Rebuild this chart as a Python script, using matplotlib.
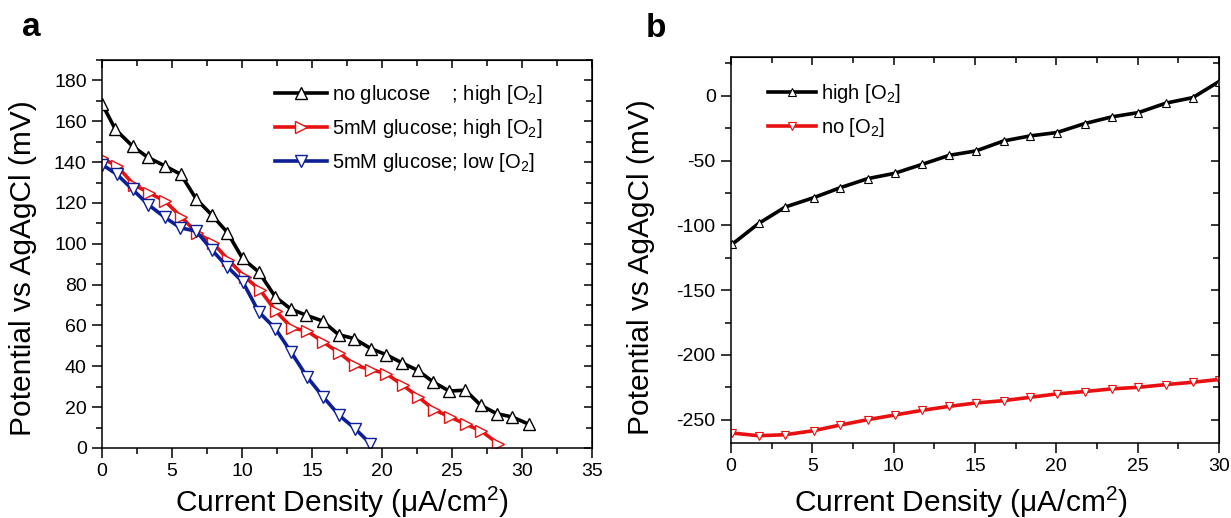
import numpy as np
import matplotlib
matplotlib.use('Agg')
import matplotlib.pyplot as plt
from matplotlib.ticker import MultipleLocator

plt.rcParams['font.family'] = ['Liberation Sans', 'DejaVu Sans']
plt.rcParams['mathtext.fontset'] = 'custom'
plt.rcParams['mathtext.rm'] = 'Liberation Sans'
plt.rcParams['mathtext.it'] = 'Liberation Sans:italic'
plt.rcParams['axes.unicode_minus'] = False

# panel a: no glucose, high O2
a_x_ng = [0.0, 0.96, 2.18, 3.28, 4.47, 5.63, 6.73, 7.86, 8.96, 10.04, 11.2, 12.38,
          13.5, 14.6, 15.75, 16.9, 18.0, 19.2, 20.3, 21.4, 22.56, 23.66, 24.8, 25.95,
          27.06, 28.2, 29.3, 30.5]
a_y_ng = [168.5, 156, 147.8, 142.3, 138.2, 134, 121.9, 114, 105.5, 92.8, 86.2, 74,
          68, 65, 62.2, 55.5, 53.6, 48.7, 45.7, 41.8, 38, 32.3, 27.9, 28.3,
          20.9, 16.8, 15.2, 11.6]
# panel a: 5mM glucose, high O2
a_x_gh = [0.0, 1.07, 2.26, 3.34, 4.5, 5.65, 6.76, 7.9, 9.0, 10.2, 11.3, 12.4,
          13.57, 14.67, 15.8, 16.94, 18.07, 19.2, 20.3, 21.5, 22.6, 23.7, 24.85,
          26.0, 27.1, 28.3]
a_y_gh = [141.8, 138.2, 129, 125, 120.9, 113.2, 105.5, 100.6, 92.3, 83.8, 77.3, 67.1,
          58.8, 57.2, 51.9, 46.6, 40.5, 38.4, 36.4, 30.7, 25, 18.8, 15.2,
          11.6, 8.3, 2.1]
# panel a: 5mM glucose, low O2
a_x_gl = [0.0, 1.05, 2.18, 3.3, 4.5, 5.6, 6.73, 7.86, 8.96, 10.06, 11.2, 12.38,
          13.5, 14.65, 15.8, 16.94, 18.07, 19.17]
a_y_gl = [138.8, 134.1, 126.6, 119.2, 112.9, 107.8, 106.2, 96.9, 88.7, 81.3, 66.6, 58.5,
          47, 34.8, 25, 16, 9.5, 2.1]

# panel b
b_x = [0.06, 1.70, 3.34, 5.08, 6.72, 8.4, 10.06, 11.74, 13.42, 15.06, 16.76, 18.4,
       20.04, 21.74, 23.42, 25.05, 26.74, 28.4, 29.97]
b_y_high = [-114.7, -98.5, -85.8, -78.6, -70.9, -63.9, -59.8, -52.9, -45.9, -42.5,
            -34.8, -30.9, -28.3, -21.4, -16.2, -12.9, -5.6, -1.3, 10.8]
b_y_no = [-260.3, -262.4, -261.6, -258.5, -254.1, -250, -246.4, -242.8, -239.7, -237.1,
          -235.3, -232.7, -230.1, -228.3, -226.2, -225, -222.9, -221.1, -219]

red = '#e81010'
blue = '#0c1f96'

W, H = 1231, 518
fig = plt.figure(figsize=(W / 100, H / 100), dpi=100)
ax1 = fig.add_axes([102 / W, 1 - 448 / H, 490 / W, 388 / H])
ax2 = fig.add_axes([731 / W, 1 - 443 / H, 488 / W, 386 / H])

ax1.plot(a_x_ng, a_y_ng, '-^', color='black', lw=2.6, ms=8.5, mfc='white', mec='black',
         mew=1.0, label='no glucose    ; high [O$_2$]')
ax1.plot(a_x_gh, a_y_gh, '->', color=red, lw=2.6, ms=8.5, mfc='white', mec=red,
         mew=1.0, label='5mM glucose; high [O$_2$]')
ax1.plot(a_x_gl, a_y_gl, '-v', color=blue, lw=2.6, ms=8.5, mfc='white', mec=blue,
         mew=1.0, label='5mM glucose; low [O$_2$]')

ax2.plot(b_x, b_y_high, '-^', color='black', lw=2.6, ms=6, mfc='white', mec='black',
         mew=0.8, label='high [O$_2$]')
ax2.plot(b_x, b_y_no, '-v', color=red, lw=2.6, ms=6, mfc='white', mec=red,
         mew=0.8, label='no [O$_2$]')

ax1.set_xlim(0, 35)
ax1.set_ylim(0, 190)
ax1.xaxis.set_major_locator(MultipleLocator(5))
ax1.xaxis.set_minor_locator(MultipleLocator(2.5))
ax1.set_yticks(np.arange(0, 181, 20))
ax1.yaxis.set_minor_locator(MultipleLocator(10))

ax2.set_xlim(0, 30)
ax2.set_ylim(-268, 30)
ax2.xaxis.set_major_locator(MultipleLocator(5))
ax2.xaxis.set_minor_locator(MultipleLocator(2.5))
ax2.set_yticks(np.arange(-250, 1, 50))
ax2.yaxis.set_minor_locator(MultipleLocator(25))

for ax in (ax1, ax2):
    for s in ax.spines.values():
        s.set_linewidth(1.1)
    ax.tick_params(which='both', direction='out', width=1.1, labelsize=14)
    ax.tick_params(which='major', length=7, pad=4)
    ax.tick_params(which='minor', length=4)
    sec_x = ax.secondary_xaxis('top')
    sec_x.tick_params(which='both', direction='in', width=1.1, labeltop=False)
    sec_x.tick_params(which='major', length=6)
    sec_x.tick_params(which='minor', length=4)
    sec_x.xaxis.set_major_locator(ax.xaxis.get_major_locator())
    sec_x.xaxis.set_minor_locator(ax.xaxis.get_minor_locator())
    sec_x.set_xticklabels([])
    sec_y = ax.secondary_yaxis('right')
    sec_y.tick_params(which='both', direction='in', width=1.1, labelright=False)
    sec_y.tick_params(which='major', length=6)
    sec_y.tick_params(which='minor', length=4)
    sec_y.set_yticks(ax.get_yticks())
    sec_y.yaxis.set_minor_locator(ax.yaxis.get_minor_locator())
    sec_y.set_yticklabels([])
    ax.set_ylabel('Potential vs AgAgCl (mV)', fontsize=21.5)
    ax.set_xlabel('Current Density (μA/cm$^2$)', fontsize=21.5)
    ax.xaxis.label.set_va('baseline')

ax1.yaxis.set_label_coords(-0.133, 0.464)
ax2.yaxis.set_label_coords(-0.156, 0.455)
ax1.xaxis.set_label_coords(0.49, -0.165)
ax2.xaxis.set_label_coords(0.471, -0.179)

ax1.legend(loc='upper left', bbox_to_anchor=(0.353, 0.94), frameon=False, fontsize=14.5,
           handlelength=2.6, handletextpad=0.25, labelspacing=0.55, borderpad=0,
           borderaxespad=0)
ax2.legend(loc='upper left', bbox_to_anchor=(0.076, 0.935), frameon=False, fontsize=14.5,
           handlelength=2.4, handletextpad=0.25, labelspacing=0.55, borderpad=0,
           borderaxespad=0)

fig.text(22 / W, 1 - 36 / H, 'a', fontsize=24, fontweight='bold', va='baseline')
fig.text(646 / W, 1 - 37 / H, 'b', fontsize=24, fontweight='bold', va='baseline')

fig.savefig('out.png', dpi=100)
